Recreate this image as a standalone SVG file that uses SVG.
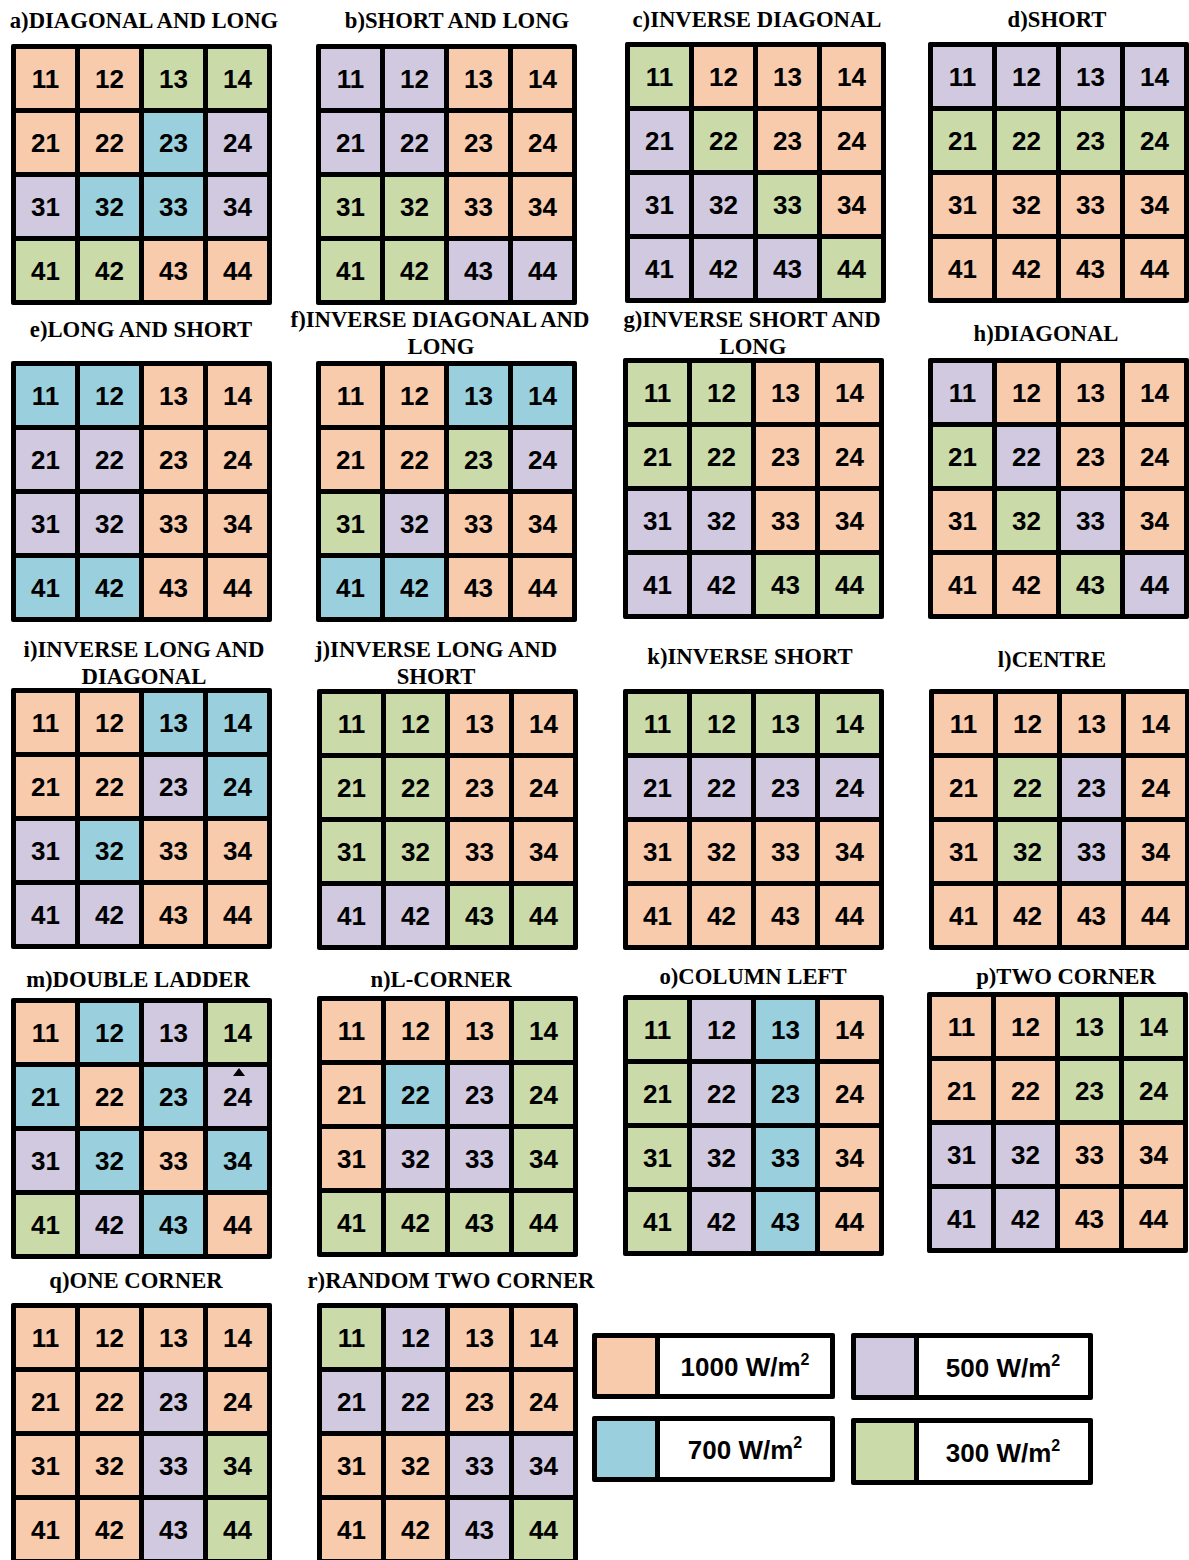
<svg xmlns="http://www.w3.org/2000/svg" width="1189" height="1560" viewBox="0 0 1189 1560">
<style>
.fr{fill:#000}
.O{fill:#F8CBAD}
.P{fill:#D0C9E0}
.B{fill:#9AD0DD}
.G{fill:#CADBA9}
.W{fill:#fff}
.n{font-family:"Liberation Sans",Arial,sans-serif;font-weight:bold;font-size:26px;text-anchor:middle;fill:#000}
.t{font-family:"Liberation Serif","Times New Roman",serif;font-weight:bold;font-size:22.7px;text-anchor:middle;fill:#000}
.lg{font-family:"Liberation Sans",Arial,sans-serif;font-weight:bold;font-size:26px;text-anchor:middle;fill:#000}
</style>
<rect width="1189" height="1560" fill="#fff"/>

<g id="titles">
<text class="t" x="144" y="28">a)DIAGONAL AND LONG</text>
<text class="t" x="457" y="28">b)SHORT AND LONG</text>
<text class="t" x="757" y="27">c)INVERSE DIAGONAL</text>
<text class="t" x="1057" y="27">d)SHORT</text>
<text class="t" x="141" y="337">e)LONG AND SHORT</text>
<text class="t" x="440" y="327">f)INVERSE DIAGONAL AND</text>
<text class="t" x="441" y="354">LONG</text>
<text class="t" x="752" y="327">g)INVERSE SHORT AND</text>
<text class="t" x="753" y="354">LONG</text>
<text class="t" x="1046" y="341">h)DIAGONAL</text>
<text class="t" x="144" y="657">i)INVERSE LONG AND</text>
<text class="t" x="144" y="684">DIAGONAL</text>
<text class="t" x="436" y="657">j)INVERSE LONG AND</text>
<text class="t" x="436" y="684">SHORT</text>
<text class="t" x="750" y="664">k)INVERSE SHORT</text>
<text class="t" x="1052" y="667">l)CENTRE</text>
<text class="t" x="138" y="987">m)DOUBLE LADDER</text>
<text class="t" x="441" y="987">n)L-CORNER</text>
<text class="t" x="753" y="984">o)COLUMN LEFT</text>
<text class="t" x="1066" y="984">p)TWO CORNER</text>
<text class="t" x="136" y="1288">q)ONE CORNER</text>
<text class="t" x="451" y="1288">r)RANDOM TWO CORNER</text>
</g>

<g id="grid-a" transform="translate(11,44)">
<rect class="fr" width="261" height="261" rx="2"/>
<rect class="O" x="5" y="5" width="59" height="59"/><rect class="O" x="69" y="5" width="59" height="59"/><rect class="G" x="133" y="5" width="59" height="59"/><rect class="G" x="197" y="5" width="59" height="59"/>
<rect class="O" x="5" y="69" width="59" height="59"/><rect class="O" x="69" y="69" width="59" height="59"/><rect class="B" x="133" y="69" width="59" height="59"/><rect class="P" x="197" y="69" width="59" height="59"/>
<rect class="P" x="5" y="133" width="59" height="59"/><rect class="B" x="69" y="133" width="59" height="59"/><rect class="B" x="133" y="133" width="59" height="59"/><rect class="P" x="197" y="133" width="59" height="59"/>
<rect class="G" x="5" y="197" width="59" height="59"/><rect class="G" x="69" y="197" width="59" height="59"/><rect class="O" x="133" y="197" width="59" height="59"/><rect class="O" x="197" y="197" width="59" height="59"/>
<text class="n" x="34.5" y="44">11</text><text class="n" x="98.5" y="44">12</text><text class="n" x="162.5" y="44">13</text><text class="n" x="226.5" y="44">14</text>
<text class="n" x="34.5" y="108">21</text><text class="n" x="98.5" y="108">22</text><text class="n" x="162.5" y="108">23</text><text class="n" x="226.5" y="108">24</text>
<text class="n" x="34.5" y="172">31</text><text class="n" x="98.5" y="172">32</text><text class="n" x="162.5" y="172">33</text><text class="n" x="226.5" y="172">34</text>
<text class="n" x="34.5" y="236">41</text><text class="n" x="98.5" y="236">42</text><text class="n" x="162.5" y="236">43</text><text class="n" x="226.5" y="236">44</text>
</g>

<g id="grid-b" transform="translate(316,44)">
<rect class="fr" width="261" height="261" rx="2"/>
<rect class="P" x="5" y="5" width="59" height="59"/><rect class="P" x="69" y="5" width="59" height="59"/><rect class="O" x="133" y="5" width="59" height="59"/><rect class="O" x="197" y="5" width="59" height="59"/>
<rect class="P" x="5" y="69" width="59" height="59"/><rect class="P" x="69" y="69" width="59" height="59"/><rect class="O" x="133" y="69" width="59" height="59"/><rect class="O" x="197" y="69" width="59" height="59"/>
<rect class="G" x="5" y="133" width="59" height="59"/><rect class="G" x="69" y="133" width="59" height="59"/><rect class="O" x="133" y="133" width="59" height="59"/><rect class="O" x="197" y="133" width="59" height="59"/>
<rect class="G" x="5" y="197" width="59" height="59"/><rect class="G" x="69" y="197" width="59" height="59"/><rect class="P" x="133" y="197" width="59" height="59"/><rect class="P" x="197" y="197" width="59" height="59"/>
<text class="n" x="34.5" y="44">11</text><text class="n" x="98.5" y="44">12</text><text class="n" x="162.5" y="44">13</text><text class="n" x="226.5" y="44">14</text>
<text class="n" x="34.5" y="108">21</text><text class="n" x="98.5" y="108">22</text><text class="n" x="162.5" y="108">23</text><text class="n" x="226.5" y="108">24</text>
<text class="n" x="34.5" y="172">31</text><text class="n" x="98.5" y="172">32</text><text class="n" x="162.5" y="172">33</text><text class="n" x="226.5" y="172">34</text>
<text class="n" x="34.5" y="236">41</text><text class="n" x="98.5" y="236">42</text><text class="n" x="162.5" y="236">43</text><text class="n" x="226.5" y="236">44</text>
</g>

<g id="grid-c" transform="translate(625,42)">
<rect class="fr" width="261" height="261" rx="2"/>
<rect class="G" x="5" y="5" width="59" height="59"/><rect class="O" x="69" y="5" width="59" height="59"/><rect class="O" x="133" y="5" width="59" height="59"/><rect class="O" x="197" y="5" width="59" height="59"/>
<rect class="P" x="5" y="69" width="59" height="59"/><rect class="G" x="69" y="69" width="59" height="59"/><rect class="O" x="133" y="69" width="59" height="59"/><rect class="O" x="197" y="69" width="59" height="59"/>
<rect class="P" x="5" y="133" width="59" height="59"/><rect class="P" x="69" y="133" width="59" height="59"/><rect class="G" x="133" y="133" width="59" height="59"/><rect class="O" x="197" y="133" width="59" height="59"/>
<rect class="P" x="5" y="197" width="59" height="59"/><rect class="P" x="69" y="197" width="59" height="59"/><rect class="P" x="133" y="197" width="59" height="59"/><rect class="G" x="197" y="197" width="59" height="59"/>
<text class="n" x="34.5" y="44">11</text><text class="n" x="98.5" y="44">12</text><text class="n" x="162.5" y="44">13</text><text class="n" x="226.5" y="44">14</text>
<text class="n" x="34.5" y="108">21</text><text class="n" x="98.5" y="108">22</text><text class="n" x="162.5" y="108">23</text><text class="n" x="226.5" y="108">24</text>
<text class="n" x="34.5" y="172">31</text><text class="n" x="98.5" y="172">32</text><text class="n" x="162.5" y="172">33</text><text class="n" x="226.5" y="172">34</text>
<text class="n" x="34.5" y="236">41</text><text class="n" x="98.5" y="236">42</text><text class="n" x="162.5" y="236">43</text><text class="n" x="226.5" y="236">44</text>
</g>

<g id="grid-d" transform="translate(928,42)">
<rect class="fr" width="261" height="261" rx="2"/>
<rect class="P" x="5" y="5" width="59" height="59"/><rect class="P" x="69" y="5" width="59" height="59"/><rect class="P" x="133" y="5" width="59" height="59"/><rect class="P" x="197" y="5" width="59" height="59"/>
<rect class="G" x="5" y="69" width="59" height="59"/><rect class="G" x="69" y="69" width="59" height="59"/><rect class="G" x="133" y="69" width="59" height="59"/><rect class="G" x="197" y="69" width="59" height="59"/>
<rect class="O" x="5" y="133" width="59" height="59"/><rect class="O" x="69" y="133" width="59" height="59"/><rect class="O" x="133" y="133" width="59" height="59"/><rect class="O" x="197" y="133" width="59" height="59"/>
<rect class="O" x="5" y="197" width="59" height="59"/><rect class="O" x="69" y="197" width="59" height="59"/><rect class="O" x="133" y="197" width="59" height="59"/><rect class="O" x="197" y="197" width="59" height="59"/>
<text class="n" x="34.5" y="44">11</text><text class="n" x="98.5" y="44">12</text><text class="n" x="162.5" y="44">13</text><text class="n" x="226.5" y="44">14</text>
<text class="n" x="34.5" y="108">21</text><text class="n" x="98.5" y="108">22</text><text class="n" x="162.5" y="108">23</text><text class="n" x="226.5" y="108">24</text>
<text class="n" x="34.5" y="172">31</text><text class="n" x="98.5" y="172">32</text><text class="n" x="162.5" y="172">33</text><text class="n" x="226.5" y="172">34</text>
<text class="n" x="34.5" y="236">41</text><text class="n" x="98.5" y="236">42</text><text class="n" x="162.5" y="236">43</text><text class="n" x="226.5" y="236">44</text>
</g>

<g id="grid-e" transform="translate(11,361)">
<rect class="fr" width="261" height="261" rx="2"/>
<rect class="B" x="5" y="5" width="59" height="59"/><rect class="B" x="69" y="5" width="59" height="59"/><rect class="O" x="133" y="5" width="59" height="59"/><rect class="O" x="197" y="5" width="59" height="59"/>
<rect class="P" x="5" y="69" width="59" height="59"/><rect class="P" x="69" y="69" width="59" height="59"/><rect class="O" x="133" y="69" width="59" height="59"/><rect class="O" x="197" y="69" width="59" height="59"/>
<rect class="P" x="5" y="133" width="59" height="59"/><rect class="P" x="69" y="133" width="59" height="59"/><rect class="O" x="133" y="133" width="59" height="59"/><rect class="O" x="197" y="133" width="59" height="59"/>
<rect class="B" x="5" y="197" width="59" height="59"/><rect class="B" x="69" y="197" width="59" height="59"/><rect class="O" x="133" y="197" width="59" height="59"/><rect class="O" x="197" y="197" width="59" height="59"/>
<text class="n" x="34.5" y="44">11</text><text class="n" x="98.5" y="44">12</text><text class="n" x="162.5" y="44">13</text><text class="n" x="226.5" y="44">14</text>
<text class="n" x="34.5" y="108">21</text><text class="n" x="98.5" y="108">22</text><text class="n" x="162.5" y="108">23</text><text class="n" x="226.5" y="108">24</text>
<text class="n" x="34.5" y="172">31</text><text class="n" x="98.5" y="172">32</text><text class="n" x="162.5" y="172">33</text><text class="n" x="226.5" y="172">34</text>
<text class="n" x="34.5" y="236">41</text><text class="n" x="98.5" y="236">42</text><text class="n" x="162.5" y="236">43</text><text class="n" x="226.5" y="236">44</text>
</g>

<g id="grid-f" transform="translate(316,361)">
<rect class="fr" width="261" height="261" rx="2"/>
<rect class="O" x="5" y="5" width="59" height="59"/><rect class="O" x="69" y="5" width="59" height="59"/><rect class="B" x="133" y="5" width="59" height="59"/><rect class="B" x="197" y="5" width="59" height="59"/>
<rect class="O" x="5" y="69" width="59" height="59"/><rect class="O" x="69" y="69" width="59" height="59"/><rect class="G" x="133" y="69" width="59" height="59"/><rect class="P" x="197" y="69" width="59" height="59"/>
<rect class="G" x="5" y="133" width="59" height="59"/><rect class="P" x="69" y="133" width="59" height="59"/><rect class="O" x="133" y="133" width="59" height="59"/><rect class="O" x="197" y="133" width="59" height="59"/>
<rect class="B" x="5" y="197" width="59" height="59"/><rect class="B" x="69" y="197" width="59" height="59"/><rect class="O" x="133" y="197" width="59" height="59"/><rect class="O" x="197" y="197" width="59" height="59"/>
<text class="n" x="34.5" y="44">11</text><text class="n" x="98.5" y="44">12</text><text class="n" x="162.5" y="44">13</text><text class="n" x="226.5" y="44">14</text>
<text class="n" x="34.5" y="108">21</text><text class="n" x="98.5" y="108">22</text><text class="n" x="162.5" y="108">23</text><text class="n" x="226.5" y="108">24</text>
<text class="n" x="34.5" y="172">31</text><text class="n" x="98.5" y="172">32</text><text class="n" x="162.5" y="172">33</text><text class="n" x="226.5" y="172">34</text>
<text class="n" x="34.5" y="236">41</text><text class="n" x="98.5" y="236">42</text><text class="n" x="162.5" y="236">43</text><text class="n" x="226.5" y="236">44</text>
</g>

<g id="grid-g" transform="translate(623,358)">
<rect class="fr" width="261" height="261" rx="2"/>
<rect class="G" x="5" y="5" width="59" height="59"/><rect class="G" x="69" y="5" width="59" height="59"/><rect class="O" x="133" y="5" width="59" height="59"/><rect class="O" x="197" y="5" width="59" height="59"/>
<rect class="G" x="5" y="69" width="59" height="59"/><rect class="G" x="69" y="69" width="59" height="59"/><rect class="O" x="133" y="69" width="59" height="59"/><rect class="O" x="197" y="69" width="59" height="59"/>
<rect class="P" x="5" y="133" width="59" height="59"/><rect class="P" x="69" y="133" width="59" height="59"/><rect class="O" x="133" y="133" width="59" height="59"/><rect class="O" x="197" y="133" width="59" height="59"/>
<rect class="P" x="5" y="197" width="59" height="59"/><rect class="P" x="69" y="197" width="59" height="59"/><rect class="G" x="133" y="197" width="59" height="59"/><rect class="G" x="197" y="197" width="59" height="59"/>
<text class="n" x="34.5" y="44">11</text><text class="n" x="98.5" y="44">12</text><text class="n" x="162.5" y="44">13</text><text class="n" x="226.5" y="44">14</text>
<text class="n" x="34.5" y="108">21</text><text class="n" x="98.5" y="108">22</text><text class="n" x="162.5" y="108">23</text><text class="n" x="226.5" y="108">24</text>
<text class="n" x="34.5" y="172">31</text><text class="n" x="98.5" y="172">32</text><text class="n" x="162.5" y="172">33</text><text class="n" x="226.5" y="172">34</text>
<text class="n" x="34.5" y="236">41</text><text class="n" x="98.5" y="236">42</text><text class="n" x="162.5" y="236">43</text><text class="n" x="226.5" y="236">44</text>
</g>

<g id="grid-h" transform="translate(928,358)">
<rect class="fr" width="261" height="261" rx="2"/>
<rect class="P" x="5" y="5" width="59" height="59"/><rect class="O" x="69" y="5" width="59" height="59"/><rect class="O" x="133" y="5" width="59" height="59"/><rect class="O" x="197" y="5" width="59" height="59"/>
<rect class="G" x="5" y="69" width="59" height="59"/><rect class="P" x="69" y="69" width="59" height="59"/><rect class="O" x="133" y="69" width="59" height="59"/><rect class="O" x="197" y="69" width="59" height="59"/>
<rect class="O" x="5" y="133" width="59" height="59"/><rect class="G" x="69" y="133" width="59" height="59"/><rect class="P" x="133" y="133" width="59" height="59"/><rect class="O" x="197" y="133" width="59" height="59"/>
<rect class="O" x="5" y="197" width="59" height="59"/><rect class="O" x="69" y="197" width="59" height="59"/><rect class="G" x="133" y="197" width="59" height="59"/><rect class="P" x="197" y="197" width="59" height="59"/>
<text class="n" x="34.5" y="44">11</text><text class="n" x="98.5" y="44">12</text><text class="n" x="162.5" y="44">13</text><text class="n" x="226.5" y="44">14</text>
<text class="n" x="34.5" y="108">21</text><text class="n" x="98.5" y="108">22</text><text class="n" x="162.5" y="108">23</text><text class="n" x="226.5" y="108">24</text>
<text class="n" x="34.5" y="172">31</text><text class="n" x="98.5" y="172">32</text><text class="n" x="162.5" y="172">33</text><text class="n" x="226.5" y="172">34</text>
<text class="n" x="34.5" y="236">41</text><text class="n" x="98.5" y="236">42</text><text class="n" x="162.5" y="236">43</text><text class="n" x="226.5" y="236">44</text>
</g>

<g id="grid-i" transform="translate(11,688)">
<rect class="fr" width="261" height="261" rx="2"/>
<rect class="O" x="5" y="5" width="59" height="59"/><rect class="O" x="69" y="5" width="59" height="59"/><rect class="B" x="133" y="5" width="59" height="59"/><rect class="B" x="197" y="5" width="59" height="59"/>
<rect class="O" x="5" y="69" width="59" height="59"/><rect class="O" x="69" y="69" width="59" height="59"/><rect class="P" x="133" y="69" width="59" height="59"/><rect class="B" x="197" y="69" width="59" height="59"/>
<rect class="P" x="5" y="133" width="59" height="59"/><rect class="B" x="69" y="133" width="59" height="59"/><rect class="O" x="133" y="133" width="59" height="59"/><rect class="O" x="197" y="133" width="59" height="59"/>
<rect class="P" x="5" y="197" width="59" height="59"/><rect class="P" x="69" y="197" width="59" height="59"/><rect class="O" x="133" y="197" width="59" height="59"/><rect class="O" x="197" y="197" width="59" height="59"/>
<text class="n" x="34.5" y="44">11</text><text class="n" x="98.5" y="44">12</text><text class="n" x="162.5" y="44">13</text><text class="n" x="226.5" y="44">14</text>
<text class="n" x="34.5" y="108">21</text><text class="n" x="98.5" y="108">22</text><text class="n" x="162.5" y="108">23</text><text class="n" x="226.5" y="108">24</text>
<text class="n" x="34.5" y="172">31</text><text class="n" x="98.5" y="172">32</text><text class="n" x="162.5" y="172">33</text><text class="n" x="226.5" y="172">34</text>
<text class="n" x="34.5" y="236">41</text><text class="n" x="98.5" y="236">42</text><text class="n" x="162.5" y="236">43</text><text class="n" x="226.5" y="236">44</text>
</g>

<g id="grid-j" transform="translate(317,689)">
<rect class="fr" width="261" height="261" rx="2"/>
<rect class="G" x="5" y="5" width="59" height="59"/><rect class="G" x="69" y="5" width="59" height="59"/><rect class="O" x="133" y="5" width="59" height="59"/><rect class="O" x="197" y="5" width="59" height="59"/>
<rect class="G" x="5" y="69" width="59" height="59"/><rect class="G" x="69" y="69" width="59" height="59"/><rect class="O" x="133" y="69" width="59" height="59"/><rect class="O" x="197" y="69" width="59" height="59"/>
<rect class="G" x="5" y="133" width="59" height="59"/><rect class="G" x="69" y="133" width="59" height="59"/><rect class="O" x="133" y="133" width="59" height="59"/><rect class="O" x="197" y="133" width="59" height="59"/>
<rect class="P" x="5" y="197" width="59" height="59"/><rect class="P" x="69" y="197" width="59" height="59"/><rect class="G" x="133" y="197" width="59" height="59"/><rect class="G" x="197" y="197" width="59" height="59"/>
<text class="n" x="34.5" y="44">11</text><text class="n" x="98.5" y="44">12</text><text class="n" x="162.5" y="44">13</text><text class="n" x="226.5" y="44">14</text>
<text class="n" x="34.5" y="108">21</text><text class="n" x="98.5" y="108">22</text><text class="n" x="162.5" y="108">23</text><text class="n" x="226.5" y="108">24</text>
<text class="n" x="34.5" y="172">31</text><text class="n" x="98.5" y="172">32</text><text class="n" x="162.5" y="172">33</text><text class="n" x="226.5" y="172">34</text>
<text class="n" x="34.5" y="236">41</text><text class="n" x="98.5" y="236">42</text><text class="n" x="162.5" y="236">43</text><text class="n" x="226.5" y="236">44</text>
</g>

<g id="grid-k" transform="translate(623,689)">
<rect class="fr" width="261" height="261" rx="2"/>
<rect class="G" x="5" y="5" width="59" height="59"/><rect class="G" x="69" y="5" width="59" height="59"/><rect class="G" x="133" y="5" width="59" height="59"/><rect class="G" x="197" y="5" width="59" height="59"/>
<rect class="P" x="5" y="69" width="59" height="59"/><rect class="P" x="69" y="69" width="59" height="59"/><rect class="P" x="133" y="69" width="59" height="59"/><rect class="P" x="197" y="69" width="59" height="59"/>
<rect class="O" x="5" y="133" width="59" height="59"/><rect class="O" x="69" y="133" width="59" height="59"/><rect class="O" x="133" y="133" width="59" height="59"/><rect class="O" x="197" y="133" width="59" height="59"/>
<rect class="O" x="5" y="197" width="59" height="59"/><rect class="O" x="69" y="197" width="59" height="59"/><rect class="O" x="133" y="197" width="59" height="59"/><rect class="O" x="197" y="197" width="59" height="59"/>
<text class="n" x="34.5" y="44">11</text><text class="n" x="98.5" y="44">12</text><text class="n" x="162.5" y="44">13</text><text class="n" x="226.5" y="44">14</text>
<text class="n" x="34.5" y="108">21</text><text class="n" x="98.5" y="108">22</text><text class="n" x="162.5" y="108">23</text><text class="n" x="226.5" y="108">24</text>
<text class="n" x="34.5" y="172">31</text><text class="n" x="98.5" y="172">32</text><text class="n" x="162.5" y="172">33</text><text class="n" x="226.5" y="172">34</text>
<text class="n" x="34.5" y="236">41</text><text class="n" x="98.5" y="236">42</text><text class="n" x="162.5" y="236">43</text><text class="n" x="226.5" y="236">44</text>
</g>

<g id="grid-l" transform="translate(929,689)">
<rect class="fr" width="261" height="261" rx="2"/>
<rect class="O" x="5" y="5" width="59" height="59"/><rect class="O" x="69" y="5" width="59" height="59"/><rect class="O" x="133" y="5" width="59" height="59"/><rect class="O" x="197" y="5" width="59" height="59"/>
<rect class="O" x="5" y="69" width="59" height="59"/><rect class="G" x="69" y="69" width="59" height="59"/><rect class="P" x="133" y="69" width="59" height="59"/><rect class="O" x="197" y="69" width="59" height="59"/>
<rect class="O" x="5" y="133" width="59" height="59"/><rect class="G" x="69" y="133" width="59" height="59"/><rect class="P" x="133" y="133" width="59" height="59"/><rect class="O" x="197" y="133" width="59" height="59"/>
<rect class="O" x="5" y="197" width="59" height="59"/><rect class="O" x="69" y="197" width="59" height="59"/><rect class="O" x="133" y="197" width="59" height="59"/><rect class="O" x="197" y="197" width="59" height="59"/>
<text class="n" x="34.5" y="44">11</text><text class="n" x="98.5" y="44">12</text><text class="n" x="162.5" y="44">13</text><text class="n" x="226.5" y="44">14</text>
<text class="n" x="34.5" y="108">21</text><text class="n" x="98.5" y="108">22</text><text class="n" x="162.5" y="108">23</text><text class="n" x="226.5" y="108">24</text>
<text class="n" x="34.5" y="172">31</text><text class="n" x="98.5" y="172">32</text><text class="n" x="162.5" y="172">33</text><text class="n" x="226.5" y="172">34</text>
<text class="n" x="34.5" y="236">41</text><text class="n" x="98.5" y="236">42</text><text class="n" x="162.5" y="236">43</text><text class="n" x="226.5" y="236">44</text>
</g>

<g id="grid-m" transform="translate(11,998)">
<rect class="fr" width="261" height="261" rx="2"/>
<rect class="O" x="5" y="5" width="59" height="59"/><rect class="B" x="69" y="5" width="59" height="59"/><rect class="P" x="133" y="5" width="59" height="59"/><rect class="G" x="197" y="5" width="59" height="59"/>
<rect class="B" x="5" y="69" width="59" height="59"/><rect class="O" x="69" y="69" width="59" height="59"/><rect class="B" x="133" y="69" width="59" height="59"/><rect class="P" x="197" y="69" width="59" height="59"/>
<rect class="P" x="5" y="133" width="59" height="59"/><rect class="B" x="69" y="133" width="59" height="59"/><rect class="O" x="133" y="133" width="59" height="59"/><rect class="B" x="197" y="133" width="59" height="59"/>
<rect class="G" x="5" y="197" width="59" height="59"/><rect class="P" x="69" y="197" width="59" height="59"/><rect class="B" x="133" y="197" width="59" height="59"/><rect class="O" x="197" y="197" width="59" height="59"/>
<polygon points="228,70 222,78 234,78" fill="#000"/>
<text class="n" x="34.5" y="44">11</text><text class="n" x="98.5" y="44">12</text><text class="n" x="162.5" y="44">13</text><text class="n" x="226.5" y="44">14</text>
<text class="n" x="34.5" y="108">21</text><text class="n" x="98.5" y="108">22</text><text class="n" x="162.5" y="108">23</text><text class="n" x="226.5" y="108">24</text>
<text class="n" x="34.5" y="172">31</text><text class="n" x="98.5" y="172">32</text><text class="n" x="162.5" y="172">33</text><text class="n" x="226.5" y="172">34</text>
<text class="n" x="34.5" y="236">41</text><text class="n" x="98.5" y="236">42</text><text class="n" x="162.5" y="236">43</text><text class="n" x="226.5" y="236">44</text>
</g>

<g id="grid-n" transform="translate(317,996)">
<rect class="fr" width="261" height="261" rx="2"/>
<rect class="O" x="5" y="5" width="59" height="59"/><rect class="O" x="69" y="5" width="59" height="59"/><rect class="O" x="133" y="5" width="59" height="59"/><rect class="G" x="197" y="5" width="59" height="59"/>
<rect class="O" x="5" y="69" width="59" height="59"/><rect class="B" x="69" y="69" width="59" height="59"/><rect class="P" x="133" y="69" width="59" height="59"/><rect class="G" x="197" y="69" width="59" height="59"/>
<rect class="O" x="5" y="133" width="59" height="59"/><rect class="P" x="69" y="133" width="59" height="59"/><rect class="P" x="133" y="133" width="59" height="59"/><rect class="G" x="197" y="133" width="59" height="59"/>
<rect class="G" x="5" y="197" width="59" height="59"/><rect class="G" x="69" y="197" width="59" height="59"/><rect class="G" x="133" y="197" width="59" height="59"/><rect class="G" x="197" y="197" width="59" height="59"/>
<text class="n" x="34.5" y="44">11</text><text class="n" x="98.5" y="44">12</text><text class="n" x="162.5" y="44">13</text><text class="n" x="226.5" y="44">14</text>
<text class="n" x="34.5" y="108">21</text><text class="n" x="98.5" y="108">22</text><text class="n" x="162.5" y="108">23</text><text class="n" x="226.5" y="108">24</text>
<text class="n" x="34.5" y="172">31</text><text class="n" x="98.5" y="172">32</text><text class="n" x="162.5" y="172">33</text><text class="n" x="226.5" y="172">34</text>
<text class="n" x="34.5" y="236">41</text><text class="n" x="98.5" y="236">42</text><text class="n" x="162.5" y="236">43</text><text class="n" x="226.5" y="236">44</text>
</g>

<g id="grid-o" transform="translate(623,995)">
<rect class="fr" width="261" height="261" rx="2"/>
<rect class="G" x="5" y="5" width="59" height="59"/><rect class="P" x="69" y="5" width="59" height="59"/><rect class="B" x="133" y="5" width="59" height="59"/><rect class="O" x="197" y="5" width="59" height="59"/>
<rect class="G" x="5" y="69" width="59" height="59"/><rect class="P" x="69" y="69" width="59" height="59"/><rect class="B" x="133" y="69" width="59" height="59"/><rect class="O" x="197" y="69" width="59" height="59"/>
<rect class="G" x="5" y="133" width="59" height="59"/><rect class="P" x="69" y="133" width="59" height="59"/><rect class="B" x="133" y="133" width="59" height="59"/><rect class="O" x="197" y="133" width="59" height="59"/>
<rect class="G" x="5" y="197" width="59" height="59"/><rect class="P" x="69" y="197" width="59" height="59"/><rect class="B" x="133" y="197" width="59" height="59"/><rect class="O" x="197" y="197" width="59" height="59"/>
<text class="n" x="34.5" y="44">11</text><text class="n" x="98.5" y="44">12</text><text class="n" x="162.5" y="44">13</text><text class="n" x="226.5" y="44">14</text>
<text class="n" x="34.5" y="108">21</text><text class="n" x="98.5" y="108">22</text><text class="n" x="162.5" y="108">23</text><text class="n" x="226.5" y="108">24</text>
<text class="n" x="34.5" y="172">31</text><text class="n" x="98.5" y="172">32</text><text class="n" x="162.5" y="172">33</text><text class="n" x="226.5" y="172">34</text>
<text class="n" x="34.5" y="236">41</text><text class="n" x="98.5" y="236">42</text><text class="n" x="162.5" y="236">43</text><text class="n" x="226.5" y="236">44</text>
</g>

<g id="grid-p" transform="translate(927,992)">
<rect class="fr" width="261" height="261" rx="2"/>
<rect class="O" x="5" y="5" width="59" height="59"/><rect class="O" x="69" y="5" width="59" height="59"/><rect class="G" x="133" y="5" width="59" height="59"/><rect class="G" x="197" y="5" width="59" height="59"/>
<rect class="O" x="5" y="69" width="59" height="59"/><rect class="O" x="69" y="69" width="59" height="59"/><rect class="G" x="133" y="69" width="59" height="59"/><rect class="G" x="197" y="69" width="59" height="59"/>
<rect class="P" x="5" y="133" width="59" height="59"/><rect class="P" x="69" y="133" width="59" height="59"/><rect class="O" x="133" y="133" width="59" height="59"/><rect class="O" x="197" y="133" width="59" height="59"/>
<rect class="P" x="5" y="197" width="59" height="59"/><rect class="P" x="69" y="197" width="59" height="59"/><rect class="O" x="133" y="197" width="59" height="59"/><rect class="O" x="197" y="197" width="59" height="59"/>
<text class="n" x="34.5" y="44">11</text><text class="n" x="98.5" y="44">12</text><text class="n" x="162.5" y="44">13</text><text class="n" x="226.5" y="44">14</text>
<text class="n" x="34.5" y="108">21</text><text class="n" x="98.5" y="108">22</text><text class="n" x="162.5" y="108">23</text><text class="n" x="226.5" y="108">24</text>
<text class="n" x="34.5" y="172">31</text><text class="n" x="98.5" y="172">32</text><text class="n" x="162.5" y="172">33</text><text class="n" x="226.5" y="172">34</text>
<text class="n" x="34.5" y="236">41</text><text class="n" x="98.5" y="236">42</text><text class="n" x="162.5" y="236">43</text><text class="n" x="226.5" y="236">44</text>
</g>

<g id="grid-q" transform="translate(11,1303)">
<rect class="fr" width="261" height="261" rx="2"/>
<rect class="O" x="5" y="5" width="59" height="59"/><rect class="O" x="69" y="5" width="59" height="59"/><rect class="O" x="133" y="5" width="59" height="59"/><rect class="O" x="197" y="5" width="59" height="59"/>
<rect class="O" x="5" y="69" width="59" height="59"/><rect class="O" x="69" y="69" width="59" height="59"/><rect class="P" x="133" y="69" width="59" height="59"/><rect class="O" x="197" y="69" width="59" height="59"/>
<rect class="O" x="5" y="133" width="59" height="59"/><rect class="O" x="69" y="133" width="59" height="59"/><rect class="P" x="133" y="133" width="59" height="59"/><rect class="G" x="197" y="133" width="59" height="59"/>
<rect class="O" x="5" y="197" width="59" height="59"/><rect class="O" x="69" y="197" width="59" height="59"/><rect class="P" x="133" y="197" width="59" height="59"/><rect class="G" x="197" y="197" width="59" height="59"/>
<text class="n" x="34.5" y="44">11</text><text class="n" x="98.5" y="44">12</text><text class="n" x="162.5" y="44">13</text><text class="n" x="226.5" y="44">14</text>
<text class="n" x="34.5" y="108">21</text><text class="n" x="98.5" y="108">22</text><text class="n" x="162.5" y="108">23</text><text class="n" x="226.5" y="108">24</text>
<text class="n" x="34.5" y="172">31</text><text class="n" x="98.5" y="172">32</text><text class="n" x="162.5" y="172">33</text><text class="n" x="226.5" y="172">34</text>
<text class="n" x="34.5" y="236">41</text><text class="n" x="98.5" y="236">42</text><text class="n" x="162.5" y="236">43</text><text class="n" x="226.5" y="236">44</text>
</g>

<g id="grid-r" transform="translate(317,1303)">
<rect class="fr" width="261" height="261" rx="2"/>
<rect class="G" x="5" y="5" width="59" height="59"/><rect class="P" x="69" y="5" width="59" height="59"/><rect class="O" x="133" y="5" width="59" height="59"/><rect class="O" x="197" y="5" width="59" height="59"/>
<rect class="P" x="5" y="69" width="59" height="59"/><rect class="P" x="69" y="69" width="59" height="59"/><rect class="O" x="133" y="69" width="59" height="59"/><rect class="O" x="197" y="69" width="59" height="59"/>
<rect class="O" x="5" y="133" width="59" height="59"/><rect class="O" x="69" y="133" width="59" height="59"/><rect class="P" x="133" y="133" width="59" height="59"/><rect class="P" x="197" y="133" width="59" height="59"/>
<rect class="O" x="5" y="197" width="59" height="59"/><rect class="O" x="69" y="197" width="59" height="59"/><rect class="P" x="133" y="197" width="59" height="59"/><rect class="G" x="197" y="197" width="59" height="59"/>
<text class="n" x="34.5" y="44">11</text><text class="n" x="98.5" y="44">12</text><text class="n" x="162.5" y="44">13</text><text class="n" x="226.5" y="44">14</text>
<text class="n" x="34.5" y="108">21</text><text class="n" x="98.5" y="108">22</text><text class="n" x="162.5" y="108">23</text><text class="n" x="226.5" y="108">24</text>
<text class="n" x="34.5" y="172">31</text><text class="n" x="98.5" y="172">32</text><text class="n" x="162.5" y="172">33</text><text class="n" x="226.5" y="172">34</text>
<text class="n" x="34.5" y="236">41</text><text class="n" x="98.5" y="236">42</text><text class="n" x="162.5" y="236">43</text><text class="n" x="226.5" y="236">44</text>
</g>

<g id="legend-1000" transform="translate(592,1333)">
<rect class="fr" width="243" height="66" rx="2"/>
<rect class="O" x="5" y="5" width="58" height="56"/>
<rect class="W" x="68" y="5" width="170" height="56"/>
<text class="lg" x="153" y="43">1000 W/m<tspan dy="-11" font-size="16">2</tspan></text>
</g>
<g id="legend-500" transform="translate(851,1333)">
<rect class="fr" width="242" height="67" rx="2"/>
<rect class="P" x="5" y="5" width="58" height="57"/>
<rect class="W" x="68" y="5" width="169" height="57"/>
<text class="lg" x="152" y="44">500 W/m<tspan dy="-11" font-size="16">2</tspan></text>
</g>
<g id="legend-700" transform="translate(592,1416)">
<rect class="fr" width="243" height="66" rx="2"/>
<rect class="B" x="5" y="5" width="58" height="56"/>
<rect class="W" x="68" y="5" width="170" height="56"/>
<text class="lg" x="153" y="43">700 W/m<tspan dy="-11" font-size="16">2</tspan></text>
</g>
<g id="legend-300" transform="translate(851,1418)">
<rect class="fr" width="242" height="67" rx="2"/>
<rect class="G" x="5" y="5" width="58" height="57"/>
<rect class="W" x="68" y="5" width="169" height="57"/>
<text class="lg" x="152" y="44">300 W/m<tspan dy="-11" font-size="16">2</tspan></text>
</g>
</svg>
